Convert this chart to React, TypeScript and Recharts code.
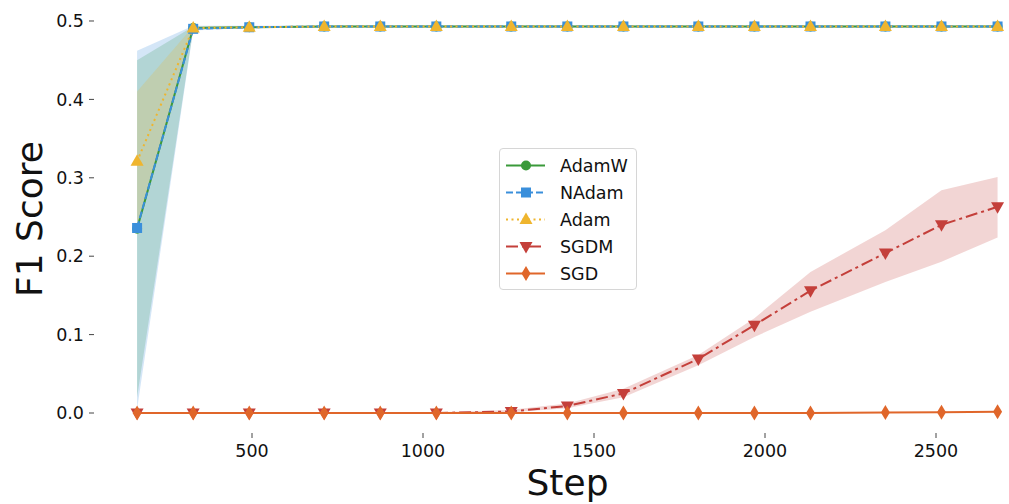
import * as React from "react";
import {
  Area,
  ComposedChart,
  Legend,
  Line,
  XAxis,
  YAxis,
} from "recharts";

const steps = [164, 328, 492, 711, 875, 1039, 1258, 1422, 1586, 1805, 1969, 2133, 2352, 2516, 2680];

const adamw = [0.235, 0.491, 0.492, 0.493, 0.493, 0.493, 0.493, 0.493, 0.493, 0.493, 0.493, 0.493, 0.493, 0.493, 0.493];
const adamwLo = [0.02, 0.489, 0.491, 0.492, 0.492, 0.492, 0.492, 0.492, 0.492, 0.492, 0.492, 0.492, 0.492, 0.492, 0.492];
const adamwHi = [0.45, 0.493, 0.493, 0.494, 0.494, 0.494, 0.494, 0.494, 0.494, 0.494, 0.494, 0.494, 0.494, 0.494, 0.494];

const nadam = [0.236, 0.49, 0.492, 0.493, 0.493, 0.493, 0.493, 0.493, 0.493, 0.493, 0.493, 0.493, 0.493, 0.493, 0.493];
const nadamLo = [0.005, 0.488, 0.491, 0.492, 0.492, 0.492, 0.492, 0.492, 0.492, 0.492, 0.492, 0.492, 0.492, 0.492, 0.492];
const nadamHi = [0.462, 0.494, 0.494, 0.494, 0.494, 0.494, 0.494, 0.494, 0.494, 0.494, 0.494, 0.494, 0.494, 0.494, 0.494];

const adam = [0.321, 0.491, 0.492, 0.493, 0.493, 0.493, 0.493, 0.493, 0.493, 0.493, 0.493, 0.493, 0.493, 0.493, 0.493];
const adamLo = [0.235, 0.489, 0.491, 0.492, 0.492, 0.492, 0.492, 0.492, 0.492, 0.492, 0.492, 0.492, 0.492, 0.492, 0.492];
const adamHi = [0.41, 0.493, 0.493, 0.494, 0.494, 0.494, 0.494, 0.494, 0.494, 0.494, 0.494, 0.494, 0.494, 0.494, 0.494];

const sgdm = [0, 0, 0, 0, 0, 0, 0.002, 0.009, 0.025, 0.069, 0.112, 0.156, 0.204, 0.24, 0.263];
const sgdmLo = [0, 0, 0, 0, 0, 0, 0.001, 0.006, 0.02, 0.061, 0.097, 0.129, 0.167, 0.193, 0.224];
const sgdmHi = [0, 0, 0, 0, 0.0005, 0.001, 0.004, 0.012, 0.031, 0.074, 0.121, 0.18, 0.233, 0.284, 0.301];

const sgd = [0, 0, 0, 0, 0, 0, 0, 0, 0, 0, 0, 0, 0.0005, 0.001, 0.0015];

const xTicks = [500, 1000, 1500, 2000, 2500];
const yTicks = [0, 0.1, 0.2, 0.3, 0.4, 0.5];

const FONT = "'DejaVu Sans', sans-serif";
const INK = "#111";

type MarkerKind = "circle" | "square" | "up" | "down" | "diamond";

type Series = {
  key: string;
  name: string;
  color: string;
  dash?: string;
  marker: MarkerKind;
};

const series: Series[] = [
  { key: "adamw", name: "AdamW", color: "#3a9a3a", marker: "circle" },
  { key: "nadam", name: "NAdam", color: "#3a8fdb", dash: "7 3", marker: "square" },
  { key: "adam", name: "Adam", color: "#efb52e", dash: "2 3.5", marker: "up" },
  { key: "sgdm", name: "SGDM", color: "#c43f3a", dash: "12 4 3 4", marker: "down" },
  { key: "sgd", name: "SGD", color: "#e0662a", marker: "diamond" },
];

const data = steps.map((step, i) => ({
  step,
  adamw: adamw[i],
  adamwBand: [adamwLo[i], adamwHi[i]],
  nadam: nadam[i],
  nadamBand: [nadamLo[i], nadamHi[i]],
  adam: adam[i],
  adamBand: [adamLo[i], adamHi[i]],
  sgdm: sgdm[i],
  sgdmBand: [sgdmLo[i], sgdmHi[i]],
  sgd: sgd[i],
}));

function Marker({ kind, cx, cy, color }: { kind: MarkerKind; cx: number; cy: number; color: string }) {
  switch (kind) {
    case "circle":
      return <circle cx={cx} cy={cy} r={5} fill={color} />;
    case "square":
      return <rect x={cx - 5} y={cy - 5} width={10} height={10} fill={color} />;
    case "up":
      return <polygon points={`${cx},${cy - 7} ${cx - 6.5},${cy + 4.5} ${cx + 6.5},${cy + 4.5}`} fill={color} />;
    case "down":
      return <polygon points={`${cx},${cy + 7} ${cx - 6.5},${cy - 4.5} ${cx + 6.5},${cy - 4.5}`} fill={color} />;
    default:
      return <polygon points={`${cx},${cy - 7.5} ${cx + 4.5},${cy} ${cx},${cy + 7.5} ${cx - 4.5},${cy}`} fill={color} />;
  }
}

function LegendBox() {
  return (
    <div
      style={{
        width: 138,
        height: 142,
        boxSizing: "border-box",
        border: "1px solid #d6d6d6",
        borderRadius: 4,
        background: "rgba(255,255,255,0.85)",
        paddingTop: 3,
        fontFamily: FONT,
        fontSize: 17.5,
        color: INK,
      }}
    >
      {series.map((s) => (
        <div key={s.key} style={{ height: 27, display: "flex", alignItems: "center" }}>
          <svg width={60} height={27} style={{ flex: "none" }}>
            <line x1={6} x2={45} y1={13.5} y2={13.5} stroke={s.color} strokeWidth={2} strokeDasharray={s.dash} />
            <Marker kind={s.marker} cx={26} cy={13.5} color={s.color} />
          </svg>
          <span>{s.name}</span>
        </div>
      ))}
    </div>
  );
}

export default function App() {
  return (
    <div style={{ position: "absolute", left: 0, top: 0, width: 1009, height: 504, overflow: "hidden", background: "#fff" }}>
      <ComposedChart
        width={1050}
        height={504}
        data={data}
        margin={{ top: 5, right: 9, bottom: 0, left: 0 }}
      >
        <XAxis
          dataKey="step"
          type="number"
          domain={[38, 2807]}
          allowDataOverflow
          ticks={xTicks}
          axisLine={false}
          tickSize={5}
          tickMargin={7}
          height={71}
          tickLine={{ stroke: "#444" }}
          tick={{ fill: INK, fontSize: 17.5, fontFamily: FONT }}
          label={{
            content: ({ viewBox }: any) => (
              <text
                x={viewBox.x + viewBox.width / 2}
                y={viewBox.y + 61.5}
                textAnchor="middle"
                fontSize={36}
                fontFamily={FONT}
                fill={INK}
              >
                Step
              </text>
            ),
          }}
        />
        <YAxis
          type="number"
          domain={[-0.0255, 0.5204]}
          allowDataOverflow
          ticks={yTicks}
          tickFormatter={(v: number) => v.toFixed(1)}
          axisLine={false}
          tickSize={5}
          tickMargin={5}
          width={94}
          tickLine={{ stroke: "#444" }}
          tick={{ fill: INK, fontSize: 17.5, fontFamily: FONT }}
          label={{
            content: ({ viewBox }: any) => {
              const cy = viewBox.y + viewBox.height / 2;
              return (
                <text
                  x={42}
                  y={cy}
                  transform={`rotate(-90 42 ${cy})`}
                  textAnchor="middle"
                  fontSize={36}
                  fontFamily={FONT}
                  fill={INK}
                >
                  F1 Score
                </text>
              );
            },
          }}
        />
        {series
          .filter((s) => s.key !== "sgd")
          .map((s) => (
            <Area
              key={s.key + "Band"}
              dataKey={s.key + "Band"}
              type="linear"
              stroke="none"
              fill={s.color}
              fillOpacity={0.22}
              isAnimationActive={false}
              activeDot={false}
              legendType="none"
            />
          ))}
        {series.map((s) => (
          <Line
            key={s.key}
            dataKey={s.key}
            name={s.name}
            type="linear"
            stroke={s.color}
            strokeWidth={2}
            strokeDasharray={s.dash}
            isAnimationActive={false}
            activeDot={false}
            dot={(p: any) => (
              <Marker key={`${s.key}-${p.index}`} kind={s.marker} cx={p.cx} cy={p.cy} color={s.color} />
            )}
          />
        ))}
        <Legend
          layout="vertical"
          verticalAlign="middle"
          align="center"
          content={() => <LegendBox />}
          wrapperStyle={{ left: 499, top: 148, width: 138, height: 142 }}
        />
      </ComposedChart>
    </div>
  );
}
